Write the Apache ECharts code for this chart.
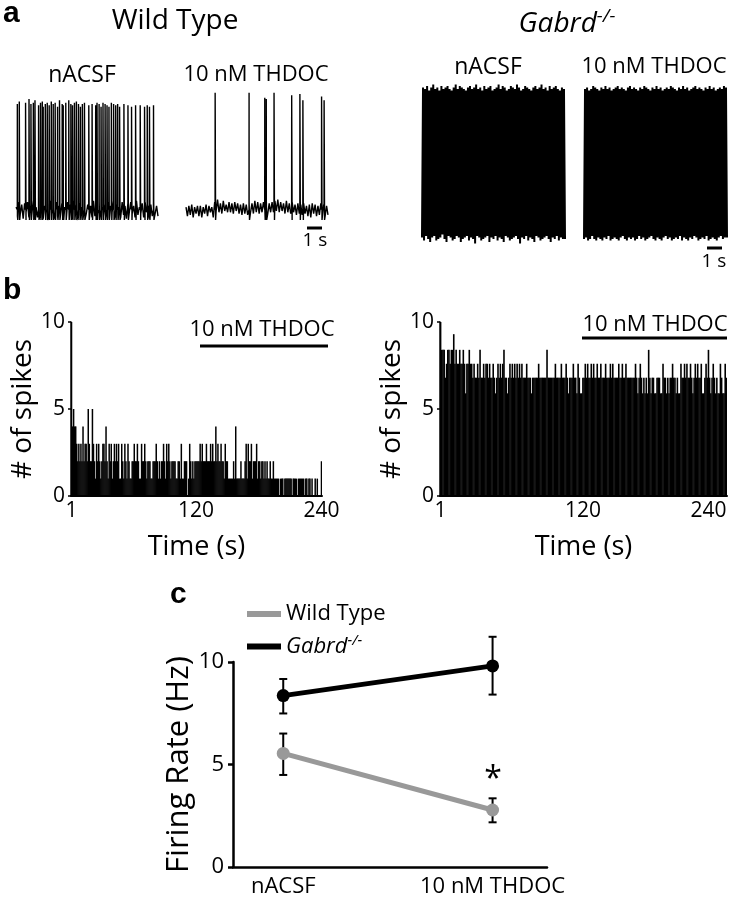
<!DOCTYPE html>
<html><head><meta charset="utf-8">
<script src="https://cdn.jsdelivr.net/npm/echarts@6/dist/echarts.min.js"></script>
<style>html,body{margin:0;padding:0;background:#fff}#c{width:734px;height:900px}</style>
</head><body><div id="c"></div><script>
const FONT = '"Open Sans", sans-serif';

// ---------- Panel a: recorded traces ----------
// Wild type, nACSF: spike [time (s), peak (mV)]
const wtCtrlSpikes = [[0.09,15],[0.22,17],[0.64,16],[0.87,19],[1.00,15],[1.16,16],[1.27,18],[1.51,14],[1.64,16],[1.76,17],[1.82,13],[1.96,15],[2.09,16],[2.22,14],[2.36,17],[2.49,15],[2.62,16],[2.78,13],[2.91,18],[3.09,15],[3.16,14],[3.33,16],[3.53,18],[3.67,15],[3.78,14],[3.91,16],[4.04,17],[4.18,15],[4.31,13],[4.44,15],[4.58,16],[4.87,14],[5.09,15],[5.33,14],[5.42,16],[5.56,15],[5.69,13],[5.82,16],[5.96,15],[6.09,14],[6.22,13],[6.38,16],[6.53,15],[6.67,14],[6.80,15],[6.93,13],[7.22,15],[7.49,14],[7.73,13],[8.00,14],[8.31,14],[8.60,13],[8.78,14],[8.93,13],[9.20,14]];
// Wild type, 10 nM THDOC
const wtThdocSpikes = [[1.95,24],[4.22,24],[5.27,20],[5.37,19],[5.89,24],[7.07,22],[7.62,23],[7.82,18],[9.07,21],[9.24,18]];
// baseline fluctuations (mV around resting level)
const wtCtrlNoise = [2,-5,6,-3,4,-7,5,-2,6,-6,3,-4,7,-5,2,-6,5,-3,6,-7,3,-2,5,-6,7,-3,2,-5,6,-5,3,-7,5,-3,2,-6,6,-2,4,-5,7,-3,3,-6,5,-4,2,-7,6,-3,4,-2,3,-6,7,-5,3,-3,6,-7,2,-5,4,-3,6,-6,3,-2,7,-5,4,-3,2,-6,6,-4,3,-7,5,-2,6,-3,3,-6,7,-4,2,-3,5,-6,6,-2,3,-7,4,-5,6,-3,3,-5];
const wtThdocNoise = [2,-5,3,-4,4,-6,2,-3,3,-5,3,-6,2,-3,4,-5,3,-2,2,-6,6,-1,8,-2,5,-3,7,-1,4,-2,6,-2,5,-3,6,-1,5,-3,4,-4,5,-3,4,-4,6,-2,5,-3,7,-2,6,-3,5,-2,6,-1,7,-3,5,-2,6,-2,7,-1,8,-2,6,-1,5,-3,7,-2,5,-3,6,-2,4,-4,5,-3,4,-4,5,-3,3,-5,4,-6,5,-3,4,-5,3,-4,5,-6,4,-5,3,-4];
const wtRest = -68, wtAhp = -76, wtDuration = 9.5;
// Gabrd-/-: spike peaks and troughs (mV)
const koCtrlPeaks = [25,24,26,23,25,27,24,25,23,26,24,25,26,24,23,25,27,24,26,25,24,23,25,26,24,25,27,24,25,23,26,24,25,26,23,24,25,27,24,26,25,23,24,26,25,24,27,25,23,24,26,25,24,23,25,26,24,25,27,24,25,23,26,24,25,26,24,23,25,24];
const koCtrlTroughs = [-75,-77,-74,-76,-78,-75,-74,-77,-76,-75,-73,-76,-78,-74,-75,-77,-76,-74,-75,-78,-76,-75,-74,-77,-75,-76,-79,-74,-75,-77,-76,-75,-74,-78,-75,-76,-74,-77,-75,-76,-78,-74,-75,-77,-76,-75,-74,-76,-79,-75,-76,-74,-77,-75,-76,-78,-74,-75,-77,-76,-75,-74,-76,-78,-75,-76,-74,-77,-75,-76];
const koThdocPeaks = [24,25,23,24,26,25,24,23,25,24,26,24,25,23,24,25,26,24,25,24,23,25,26,24,25,24,23,25,24,26,25,24,23,25,24,26,24,25,23,24,25,24,26,25,24,23,25,24,26,24,25,23,24,25,26,24,25,24,23,25,24,26,24,25,23,24,25,24,26,25];
const koThdocTroughs = [-76,-75,-77,-76,-74,-76,-77,-75,-76,-77,-75,-76,-74,-77,-76,-75,-76,-77,-75,-74,-76,-77,-75,-76,-75,-77,-76,-74,-76,-75,-77,-76,-75,-74,-76,-77,-75,-76,-77,-75,-74,-76,-75,-77,-76,-75,-76,-74,-77,-75,-76,-77,-75,-76,-74,-75,-77,-76,-75,-76,-74,-77,-76,-75,-76,-77,-75,-74,-76,-75];

// ---------- Panel b: spikes per 1-s bin ----------
const binLabels = Array.from({length:240}, (_, i) => String(i + 1));
const wtHist = [10,4,5,4,4,3,2,3,2,3, 2,4,2,3,3,2,5,3,2,2, 5,3,2,1,3,2,3,2,1,2, 3,3,2,4,2,1,3,2,3,1, 2,3,2,3,2,3,1,1,3,2, 1,3,2,1,3,2,1,1,2,2,
 3,2,2,3,2,1,1,3,2,2, 3,2,1,2,2,2,1,1,2,2, 2,3,2,1,2,1,2,2,3,2, 1,3,2,3,2,1,2,2,2,2, 1,1,2,2,1,3,1,1,2,2, 2,0,1,3,2,1,2,1,2,2,
 2,2,2,3,2,3,2,2,2,3, 2,2,2,3,2,3,2,2,4,2, 3,2,2,3,2,2,1,3,2,2, 1,1,1,1,1,2,1,4,1,1, 1,1,2,1,1,1,2,3,1,3, 2,2,3,1,2,2,2,3,1,2,
 2,1,2,2,1,2,1,2,1,1, 2,1,1,2,1,1,1,1,1,0, 1,1,1,0,1,1,1,1,1,1, 1,0,1,1,1,1,0,1,1,1, 1,1,1,0,1,1,0,1,1,0, 1,0,0,1,0,1,0,0,0,2];
const koHist = [10,8.4,8.4,8.4,6.8,7.6,8.4,8.4,7.6,8.4, 8.4,9.3,7.6,8.4,7.6,7.6,8.4,7.6,7.6,8.4, 7.6,5.9,7.6,7.6,8.4,7.6,7.6,6.8,7.6,6.8, 6.8,7.6,6.8,8.4,6.8,6.8,7.6,6.8,7.6,7.6,
 6.8,7.6,6.8,6.8,7.6,6.8,5.9,6.8,7.6,6.8, 7.6,6.8,7.6,8.4,6.8,6.8,5.9,6.8,7.6,6.8, 7.6,6.8,7.6,6.8,7.6,6.8,7.6,6.8,7.6,6.8, 6.8,6.8,7.6,6.8,6.8,6.8,5.9,6.8,6.8,6.8,
 6.8,6.8,7.6,6.8,6.8,6.8,6.8,6.8,6.8,8.4, 6.8,6.8,6.8,6.8,6.8,6.8,7.6,6.8,6.8,6.8, 6.8,7.6,6.8,6.8,6.8,7.6,6.8,5.9,6.8,6.8, 6.8,7.6,6.8,6.8,5.9,7.6,6.8,5.9,5.9,6.8,
 6.8,7.6,6.8,7.6,6.8,6.8,7.6,6.8,7.6,6.8, 6.8,7.6,6.8,6.8,7.6,6.8,6.8,6.8,7.6,6.8, 6.8,6.8,7.6,6.8,7.6,6.8,6.8,6.8,6.8,7.6, 6.8,6.8,7.6,6.8,6.8,7.6,6.8,6.8,6.8,6.8,
 6.8,6.8,6.8,7.6,6.8,5.9,6.8,7.6,6.8,5.9, 6.8,5.9,6.8,5.9,8.4,6.8,5.9,6.8,6.8,5.9, 5.9,6.8,6.8,6.8,5.9,5.9,7.6,6.8,6.8,5.9, 6.8,5.9,6.8,6.8,7.6,6.8,6.8,5.9,6.8,5.9,
 5.9,7.6,6.8,6.8,7.6,6.8,7.6,6.8,6.8,7.6, 6.8,5.9,6.8,7.6,6.8,7.6,6.8,6.8,7.6,5.9, 5.9,6.8,7.6,6.8,8.4,6.8,5.9,6.8,7.6,6.8, 5.9,6.8,5.9,5.9,7.6,6.8,5.9,5.9,7.6,6.8];

// ---------- Panel c: mean firing rate ± error ----------
const conditions = ['nACSF', '10 nM THDOC'];
const wtMean = [5.54, 2.78], wtLow = [4.49, 2.18], wtHigh = [6.51, 3.35];
const koMean = [8.36, 9.81], koLow = [7.49, 8.41], koHigh = [9.17, 11.23];

// ---------- build helpers ----------
function buildTrace(noise, spikes, rest, ahp, T) {
  const dt = T / (noise.length - 1);
  const pts = noise.map((n, i) => [i * dt, rest + n]);
  spikes.forEach(([t, p]) => { pts.push([t - 0.004, rest]); pts.push([t, p]); pts.push([t + 0.03, ahp]); });
  pts.sort((a, b) => a[0] - b[0]);
  return pts;
}
function buildBurst(peaks, troughs) {
  const pts = [];
  peaks.forEach((p, i) => { pts.push([i, troughs[i]]); pts.push([i + 0.5, p]); });
  pts.push([peaks.length, troughs[troughs.length - 1]]);
  return pts;
}

const chart = echarts.init(document.getElementById('c'), null, {renderer: 'canvas'});

const grids = [
  {left: 16, top: 85, width: 142, height: 140},
  {left: 186, top: 85, width: 142, height: 140},
  {left: 422, top: 80, width: 143, height: 165},
  {left: 584, top: 80, width: 143, height: 165},
  {left: 71, top: 322, width: 251, height: 174},
  {left: 440, top: 322, width: 287, height: 174},
  {left: 233, top: 662, width: 314, height: 205}
];

const hidden = {show: false};
const xAxes = [
  {gridIndex: 0, type: 'value', min: 0, max: wtDuration, show: false},
  {gridIndex: 1, type: 'value', min: 0, max: wtDuration, show: false},
  {gridIndex: 2, type: 'value', min: 0, max: koCtrlPeaks.length, show: false},
  {gridIndex: 3, type: 'value', min: 0, max: koThdocPeaks.length, show: false}
];
const yAxes = [
  {gridIndex: 0, type: 'value', min: -80, max: 30, show: false},
  {gridIndex: 1, type: 'value', min: -80, max: 30, show: false},
  {gridIndex: 2, type: 'value', min: -80, max: 30, show: false},
  {gridIndex: 3, type: 'value', min: -80, max: 30, show: false}
];
const txt = {color: '#000', fontFamily: FONT};
[4, 5].forEach(g => {
  xAxes.push({
    gridIndex: g, type: 'category', data: binLabels, boundaryGap: true,
    axisLine: {lineStyle: {color: '#000', width: 2}}, axisTick: {show: false},
    axisLabel: Object.assign({interval: (i) => i === 0 || i === 119 || i === 239, fontSize: 21, margin: 5, alignMaxLabel: g === 5 ? 'right' : null}, txt),
    name: 'Time (s)', nameLocation: 'middle', nameGap: 38,
    nameTextStyle: Object.assign({fontSize: 27}, txt)
  });
  yAxes.push({
    gridIndex: g, type: 'value', min: 0, max: 10, interval: 5,
    axisLine: {show: true, lineStyle: {color: '#000', width: 1.5}},
    axisTick: {show: true, length: 3, lineStyle: {color: '#000', width: 1.5}},
    splitLine: hidden,
    axisLabel: Object.assign({fontSize: 21, margin: 6}, txt),
    name: '# of spikes', nameLocation: 'middle', nameRotate: 90, nameGap: 27,
    nameTextStyle: Object.assign({fontSize: 28}, txt)
  });
});
xAxes.push({
  gridIndex: 6, type: 'value', min: 0.76, max: 2.26,
  axisLine: {lineStyle: {color: '#000', width: 2.5}}, axisTick: {show: false}, splitLine: hidden,
  axisLabel: Object.assign({customValues: [1, 2], formatter: v => conditions[Math.round(v) - 1] || '', fontSize: 22, margin: 9}, txt)
});
yAxes.push({
  gridIndex: 6, type: 'value', min: 0, max: 10, interval: 5,
  axisLine: {show: true, lineStyle: {color: '#000', width: 2.5}},
  axisTick: {show: true, length: 5, lineStyle: {color: '#000', width: 2.5}},
  splitLine: hidden,
  axisLabel: Object.assign({fontSize: 22, margin: 9}, txt),
  name: 'Firing Rate (Hz)', nameLocation: 'middle', nameRotate: 90, nameGap: 35,
  nameTextStyle: Object.assign({fontSize: 31}, txt)
});

const traceLine = (idx, data, w) => ({
  type: 'line', xAxisIndex: idx, yAxisIndex: idx, data, showSymbol: false, symbol: 'none',
  lineStyle: {color: '#000', width: w}, animation: false, silent: true, z: 3
});

const errData = [];
[0, 1].forEach(i => { errData.push([i + 1, wtLow[i], wtHigh[i]]); errData.push([i + 1, koLow[i], koHigh[i]]); });

const series = [
  traceLine(0, buildTrace(wtCtrlNoise, wtCtrlSpikes, wtRest, wtAhp, wtDuration), 1.4),
  traceLine(1, buildTrace(wtThdocNoise, wtThdocSpikes, wtRest, wtAhp, wtDuration), 1.4),
  traceLine(2, buildBurst(koCtrlPeaks, koCtrlTroughs), 2),
  traceLine(3, buildBurst(koThdocPeaks, koThdocTroughs), 2),
  {type: 'bar', xAxisIndex: 4, yAxisIndex: 4, data: wtHist, barWidth: 1.5, barGap: '-100%', itemStyle: {color: '#000'}, animation: false, silent: true},
  {type: 'bar', xAxisIndex: 5, yAxisIndex: 5, data: koHist, barWidth: 1.6, barGap: '-100%', itemStyle: {color: '#000'}, animation: false, silent: true},
  {
    type: 'custom', xAxisIndex: 6, yAxisIndex: 6, data: errData, clip: false, z: 1, animation: false,
    renderItem: (params, api) => {
      const x = api.value(0), lo = api.value(1), hi = api.value(2);
      const a = api.coord([x, hi]), b = api.coord([x, lo]);
      const w = 4, st = {stroke: '#000', lineWidth: 2};
      return {type: 'group', children: [
        {type: 'line', shape: {x1: a[0], y1: a[1], x2: b[0], y2: b[1]}, style: st},
        {type: 'line', shape: {x1: a[0] - w, y1: a[1], x2: a[0] + w, y2: a[1]}, style: st},
        {type: 'line', shape: {x1: b[0] - w, y1: b[1], x2: b[0] + w, y2: b[1]}, style: st}
      ]};
    }
  },
  {name: 'Wild Type', type: 'line', xAxisIndex: 6, yAxisIndex: 6, data: wtMean.map((v, i) => [i + 1, v]),
   symbol: 'circle', symbolSize: 13, clip: false, z: 3, animation: false,
   lineStyle: {color: '#999', width: 5}, itemStyle: {color: '#999'}},
  {name: 'Gabrd', type: 'line', xAxisIndex: 6, yAxisIndex: 6, data: koMean.map((v, i) => [i + 1, v]),
   symbol: 'circle', symbolSize: 13, clip: false, z: 3, animation: false,
   lineStyle: {color: '#000', width: 5}, itemStyle: {color: '#000'}}
];

const T = (text, x, y, size, extra) => ({type: 'text', x, y, silent: true,
  style: Object.assign({text, font: size + 'px ' + FONT, fill: '#000', align: 'center', verticalAlign: 'middle', textAlign: 'center', textVerticalAlign: 'middle'}, extra || {})});
const panelLetter = (t, x, y) => ({type: 'text', x, y, silent: true,
  style: {text: t, font: 'bold 30px "Liberation Sans", Arial, sans-serif', fill: '#000', align: 'left', verticalAlign: 'top', textAlign: 'left', textVerticalAlign: 'top'}});
const bar = (x1, x2, y, w) => ({type: 'line', silent: true, shape: {x1, y1: y, x2, y2: y}, style: {stroke: '#000', lineWidth: w}});

const graphic = [
  panelLetter('a', 3, -1), panelLetter('b', 3, 276), panelLetter('c', 170, 580),
  T('Wild Type', 175, 21, 28),
  {type: 'text', x: 567, y: 24, silent: true, style: {
    text: '{i|Gabrd}{s|-/-}', align: 'center', verticalAlign: 'middle', textAlign: 'center', textVerticalAlign: 'middle', fill: '#000',
    rich: {i: {fontFamily: FONT, fontSize: 28, fontStyle: 'italic', fill: '#000', color: '#000'},
           s: {fontFamily: FONT, fontSize: 19, fontStyle: 'italic', fill: '#000', color: '#000', verticalAlign: 'top', padding: [0, 0, 14, 0]}}}},
  T('nACSF', 82, 75, 23), T('10 nM THDOC', 256, 75, 22),
  T('nACSF', 488, 67, 23), T('10 nM THDOC', 654, 67, 22),
  bar(307, 322, 228, 3), T('1 s', 315, 241, 19),
  bar(707, 722, 248, 3), T('1 s', 714, 262, 19),
  T('10 nM THDOC', 262, 330, 22), bar(200, 328, 346, 3),
  T('10 nM THDOC', 655, 325, 22), bar(582, 727, 338, 3),
  T('*', 493, 780, 32)
];

chart.setOption({
  animation: false,
  grid: grids,
  xAxis: xAxes,
  yAxis: yAxes,
  series,
  legend: {
    orient: 'vertical', left: 242, top: 598, itemWidth: 34, itemHeight: 6, itemGap: 8, icon: 'rect',
    data: ['Wild Type', 'Gabrd'], selectedMode: false,
    formatter: n => n === 'Gabrd' ? '{i|Gabrd}{s|-/-}' : n,
    textStyle: {fontSize: 22, fontFamily: FONT, color: '#000',
      rich: {i: {fontSize: 22, fontFamily: FONT, fontStyle: 'italic', color: '#000'},
             s: {fontSize: 15, fontFamily: FONT, fontStyle: 'italic', color: '#000', verticalAlign: 'top', padding: [0, 0, 12, 0]}}}
  },
  graphic
});
</script></body></html>
